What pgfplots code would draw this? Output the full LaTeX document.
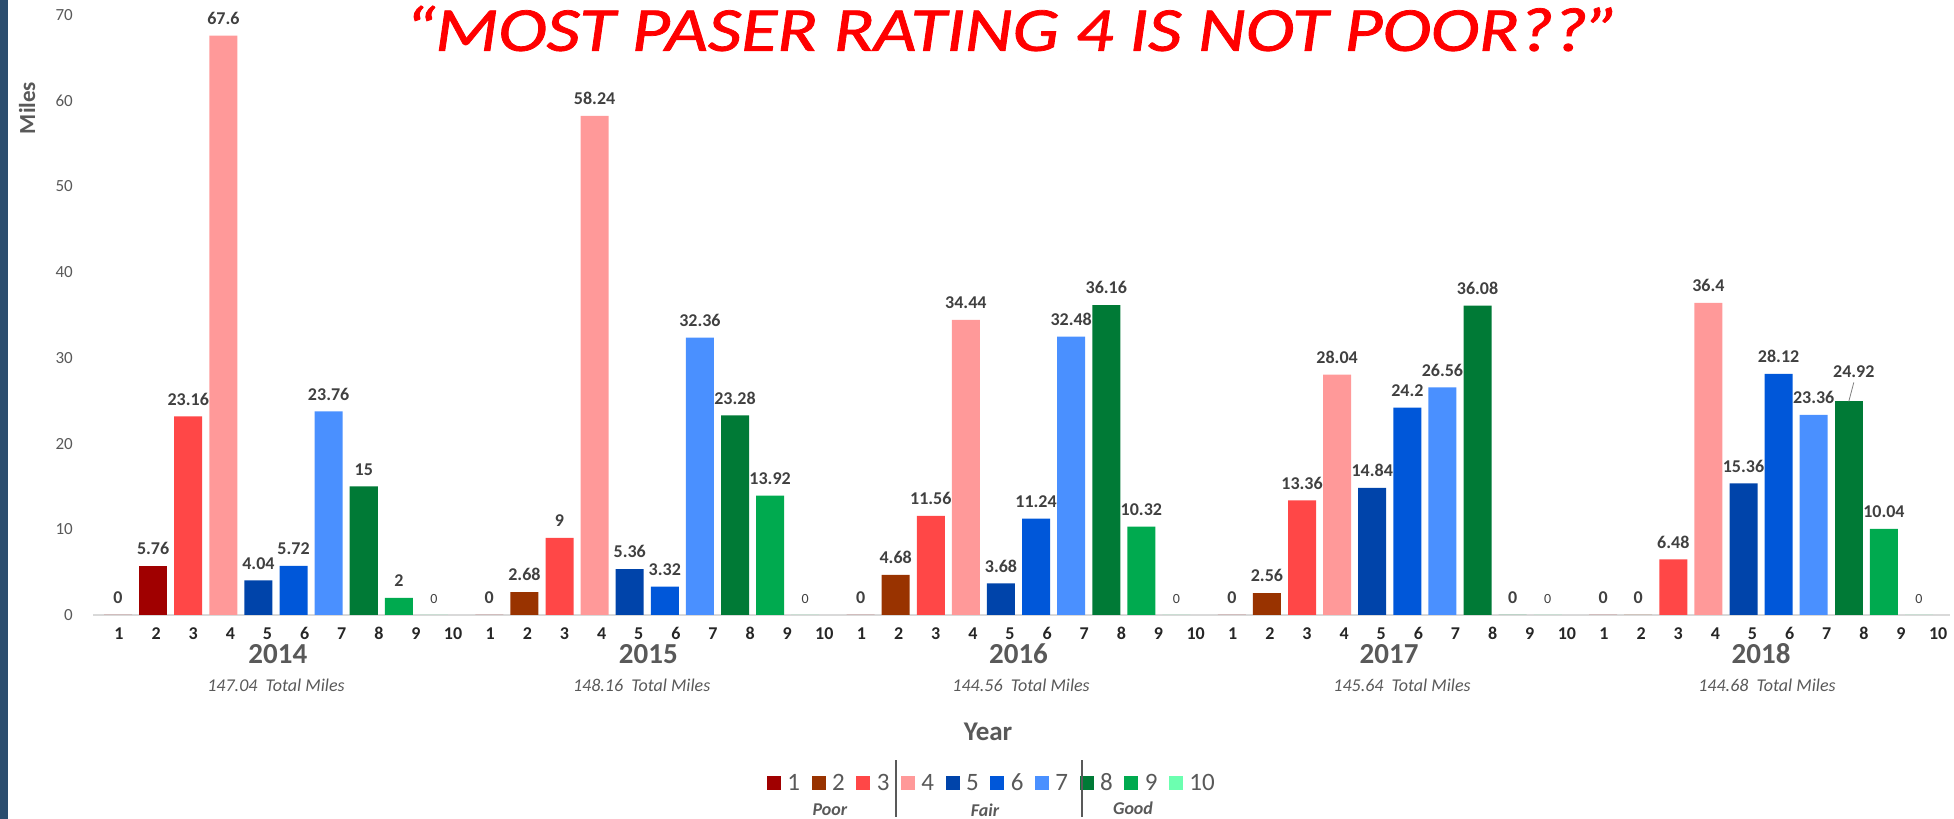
\documentclass[border=0pt]{standalone}
\usepackage{fontspec}
\setmainfont{Carlito}
\newfontfamily\titlefont[FakeBold=1.2]{Carlito}
\usepackage{graphicx}
\usepackage{pgfplots}
\pgfplotsset{compat=1.18}
\definecolor{c1}{HTML}{A00000}
\definecolor{c2}{HTML}{993300}
\definecolor{c3}{HTML}{FF4747}
\definecolor{c4}{HTML}{FF9999}
\definecolor{c5}{HTML}{0044AA}
\definecolor{c6}{HTML}{0057D9}
\definecolor{c7}{HTML}{4A90FF}
\definecolor{c8}{HTML}{007A36}
\definecolor{c9}{HTML}{00AA4F}
\definecolor{c10}{HTML}{6CFFB0}
\definecolor{stripe}{HTML}{2B4D6E}
\definecolor{axisgray}{HTML}{D9D9D9}
\definecolor{labelgray}{HTML}{404040}
\definecolor{txtgray}{HTML}{595959}
\definecolor{tickdark}{HTML}{262626}
\pgfplotsset{sqlegend/.style={legend image code/.code={\fill[##1,draw=none] (0bp,-7bp) rectangle (14bp,7bp);}}}
\begin{document}
\begin{tikzpicture}[x=1bp,y=1bp]
\useasboundingbox (0,0) rectangle (1954,819);
\fill[stripe] (0,0) rectangle (8,819);
\begin{axis}[
  at={(93bp,204bp)}, anchor=south west,
  scale only axis, width=1857bp, height=600bp,
  xmin=-0.4929, xmax=4.5091, ymin=0, ymax=70,
  enlargelimits=false, clip=false,
  ybar, bar width=28bp,
  /pgf/number format/assume math mode=true,
  separate axis lines,
  axis x line*=bottom, axis y line*=left,
  x axis line style={draw=axisgray, line width=1.5bp, -},
  y axis line style={draw=none},
  xtick style={draw=none}, ytick style={draw=none},
  ytick={0,10,...,70},
  yticklabel style={anchor=east, inner sep=0pt, xshift=-20bp, font=\fontsize{17bp}{19bp}\selectfont, text=txtgray},
  xtick={-0.423,-0.323,-0.223,-0.123,-0.023,0.077,0.177,0.277,0.377,0.477,
         0.577,0.677,0.777,0.877,0.977,1.077,1.177,1.277,1.377,1.477,
         1.577,1.677,1.777,1.877,1.977,2.077,2.177,2.277,2.377,2.477,
         2.577,2.677,2.777,2.877,2.977,3.077,3.177,3.277,3.377,3.477,
         3.577,3.677,3.777,3.877,3.977,4.077,4.177,4.277,4.377,4.477},
  xticklabels={1,2,3,4,5,6,7,8,9,10,1,2,3,4,5,6,7,8,9,10,1,2,3,4,5,6,7,8,9,10,1,2,3,4,5,6,7,8,9,10,1,2,3,4,5,6,7,8,9,10},
  xticklabel style={anchor=center, inner sep=0pt, yshift=-14bp, font=\bfseries\fontsize{18bp}{20bp}\selectfont, text=tickdark},
  ylabel={Miles},
  ylabel style={at={(axis description cs:-0.0355,0.845)}, anchor=center, font=\bfseries\fontsize{23bp}{25bp}\selectfont, text=txtgray},
  xlabel={Year},
  xlabel style={at={(axis description cs:0.482,-0.195)}, anchor=center, font=\bfseries\fontsize{27bp}{30bp}\selectfont, text=txtgray},
  title={\resizebox{1215bp}{45bp}{\titlefont\fontsize{70bp}{80bp}\selectfont\itshape “MOST PASER RATING 4 IS NOT POOR??”}},
  title style={at={(axis description cs:0.4949,0.9675)}, anchor=center, inner sep=0pt, text=red},
  nodes near coords,
  every node near coord/.append style={font=\bfseries\fontsize{18bp}{20bp}\selectfont, text=labelgray, anchor=south, inner sep=0pt, yshift=11bp},
  legend columns=10,
  legend style={at={(axis description cs:0.3629,-0.28)}, anchor=west, draw=none, fill=none, inner sep=0pt, outer sep=0pt,
    nodes={font=\fontsize{25bp}{27bp}\selectfont, text=txtgray, inner xsep=6.5bp, inner ysep=1bp},
    /tikz/every even column/.append style={column sep=5bp}},
]
\addplot[fill=c1, draw=none, bar shift=-157.95bp, sqlegend] coordinates {(0,0) (1,0) (2,0) (3,0) (4,0)};
\addlegendentry{1}
\addplot[fill=c2, draw=none, bar shift=-122.85bp, sqlegend] coordinates {(1,2.68) (2,4.68) (3,2.56) (4,0)};
\addlegendentry{2}
\addplot[fill=c1, draw=none, bar shift=-122.85bp, forget plot] coordinates {(0,5.76)};
\addplot[fill=c3, draw=none, bar shift=-87.75bp, sqlegend] coordinates {(0,23.16) (1,9) (2,11.56) (3,13.36) (4,6.48)};
\addlegendentry{3}
\addplot[fill=c4, draw=none, bar shift=-52.65bp, sqlegend] coordinates {(0,67.6) (1,58.24) (2,34.44) (3,28.04) (4,36.4)};
\addlegendentry{4}
\addplot[fill=c5, draw=none, bar shift=-17.55bp, sqlegend] coordinates {(0,4.04) (1,5.36) (2,3.68) (3,14.84) (4,15.36)};
\addlegendentry{5}
\addplot[fill=c6, draw=none, bar shift=17.55bp, sqlegend] coordinates {(0,5.72) (1,3.32) (2,11.24) (3,24.2) (4,28.12)};
\addlegendentry{6}
\addplot[fill=c7, draw=none, bar shift=52.65bp, sqlegend] coordinates {(0,23.76) (1,32.36) (2,32.48) (3,26.56) (4,23.36)};
\addlegendentry{7}
\addplot[fill=c8, draw=none, bar shift=87.75bp, sqlegend] coordinates {(0,15) (1,23.28) (2,36.16) (3,36.08)};
\addlegendentry{8}
\addplot[fill=c8, draw=none, bar shift=87.75bp, forget plot, every node near coord/.append style={yshift=13bp, xshift=5bp}] coordinates {(4,24.92)};
\addplot[fill=c9, draw=none, bar shift=122.85bp, sqlegend] coordinates {(0,2) (1,13.92) (2,10.32) (3,0) (4,10.04)};
\addlegendentry{9}
\addplot[fill=c10, draw=none, bar shift=157.95bp, sqlegend, every node near coord/.append style={font=\fontsize{14bp}{16bp}\selectfont}] coordinates {(0,0) (1,0) (2,0) (3,0) (4,0)};
\addlegendentry{10}
\draw[gray, line width=0.8bp] ([xshift=87.75bp]axis cs:4,24.92) -- ++(5bp,19bp);
\node[font=\bfseries\fontsize{29bp}{32bp}\selectfont, text=txtgray, yshift=-39bp] at (axis cs:0.005,0) {2014};
\node[font=\bfseries\fontsize{29bp}{32bp}\selectfont, text=txtgray, yshift=-39bp] at (axis cs:1.003,0) {2015};
\node[font=\bfseries\fontsize{29bp}{32bp}\selectfont, text=txtgray, yshift=-39bp] at (axis cs:2.0,0) {2016};
\node[font=\bfseries\fontsize{29bp}{32bp}\selectfont, text=txtgray, yshift=-39bp] at (axis cs:2.998,0) {2017};
\node[font=\bfseries\fontsize{29bp}{32bp}\selectfont, text=txtgray, yshift=-39bp] at (axis cs:4.0,0) {2018};
\node[font=\itshape\fontsize{18bp}{20bp}\selectfont, text=txtgray, yshift=-70bp] at (axis cs:0,0) {147.04\ \ Total Miles};
\node[font=\itshape\fontsize{18bp}{20bp}\selectfont, text=txtgray, yshift=-70bp] at (axis cs:0.985,0) {148.16\ \ Total Miles};
\node[font=\itshape\fontsize{18bp}{20bp}\selectfont, text=txtgray, yshift=-70bp] at (axis cs:2.007,0) {144.56\ \ Total Miles};
\node[font=\itshape\fontsize{18bp}{20bp}\selectfont, text=txtgray, yshift=-70bp] at (axis cs:3.033,0) {145.64\ \ Total Miles};
\node[font=\itshape\fontsize{18bp}{20bp}\selectfont, text=txtgray, yshift=-70bp] at (axis cs:4.016,0) {144.68\ \ Total Miles};
\end{axis}
\draw[txtgray, line width=1.5bp] (896,2) -- (896,59);
\draw[txtgray, line width=1.5bp] (1082,2) -- (1082,59);
\node[font=\bfseries\itshape\fontsize{18bp}{20bp}\selectfont, text=txtgray] at (830,9) {Poor};
\node[font=\bfseries\itshape\fontsize{18bp}{20bp}\selectfont, text=txtgray] at (985,9) {Fair};
\node[font=\bfseries\itshape\fontsize{18bp}{20bp}\selectfont, text=txtgray] at (1133,11) {Good};
\end{tikzpicture}
\end{document}
